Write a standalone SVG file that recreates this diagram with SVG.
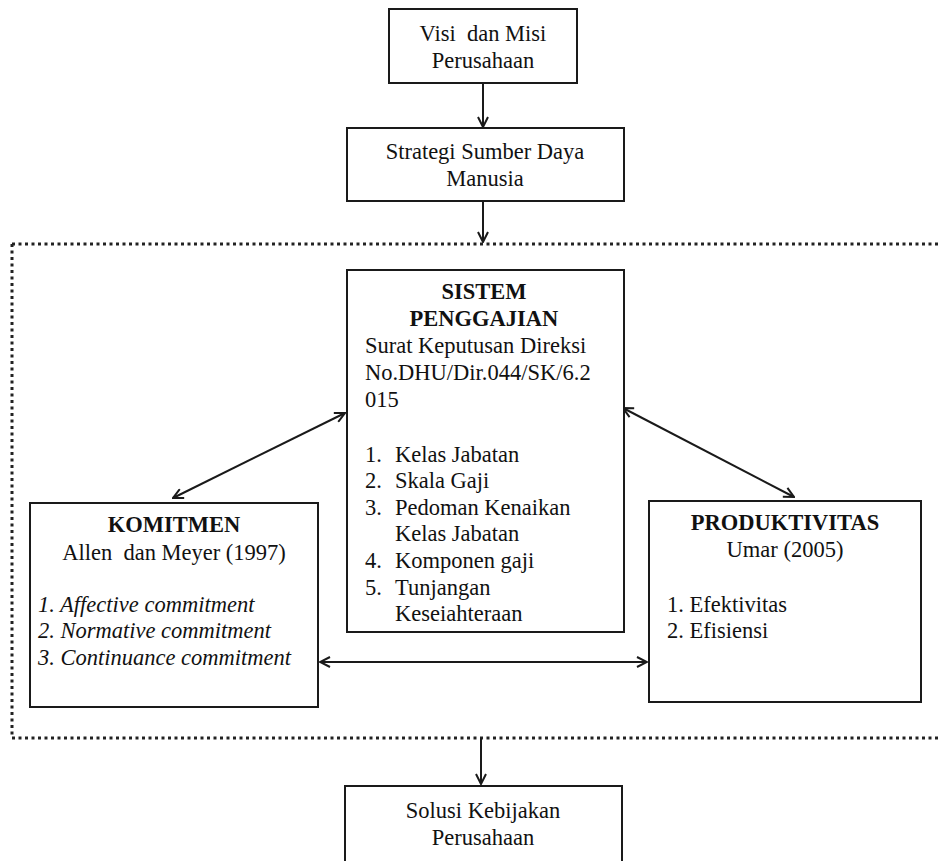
<svg xmlns="http://www.w3.org/2000/svg" width="938" height="861" viewBox="0 0 938 861">
<defs>
<marker id="ah" viewBox="0 0 12 12" refX="11" refY="6" markerWidth="12" markerHeight="12" markerUnits="userSpaceOnUse" orient="auto-start-reverse">
<path d="M1,1 L11,6 L1,11" fill="none" stroke="#1a1a1a" stroke-width="2"/>
</marker>
</defs>
<style>
.box{fill:#fff;stroke:#1a1a1a;stroke-width:2}
.t{font-family:"Liberation Serif","Times New Roman",serif;font-size:22.5px;fill:#111}
.c{text-anchor:middle}
.b{font-weight:bold}
.i{font-style:italic}
.ln{stroke:#1a1a1a;stroke-width:2;fill:none}
.dot{stroke:#222;stroke-width:3;fill:none;stroke-dasharray:3 3.5}
</style>
<rect width="938" height="861" fill="#fff"/>
<g id="frame">
<path class="dot" d="M12,244 H938 M12,244 V738 M12,738 H938"/>
</g>
<g id="connectors">
<line class="ln" x1="483" y1="83" x2="483" y2="127" marker-end="url(#ah)"/>
<line class="ln" x1="483" y1="201" x2="483" y2="242" marker-end="url(#ah)"/>
<line class="ln" x1="345" y1="413" x2="173" y2="498" marker-start="url(#ah)" marker-end="url(#ah)"/>
<line class="ln" x1="623" y1="408" x2="794" y2="497" marker-start="url(#ah)" marker-end="url(#ah)"/>
<line class="ln" x1="320" y1="662" x2="647" y2="662" marker-start="url(#ah)" marker-end="url(#ah)"/>
<line class="ln" x1="481" y1="738" x2="481" y2="784" marker-end="url(#ah)"/>
</g>
<g id="visi">
<rect class="box" x="389" y="9" width="188" height="74"/>
<text class="t c" x="483" y="41" xml:space="preserve">Visi  dan Misi</text>
<text class="t c" x="483" y="68">Perusahaan</text>
</g>
<g id="strategi">
<rect class="box" x="347" y="128" width="277" height="73"/>
<text class="t c" x="485" y="159">Strategi Sumber Daya</text>
<text class="t c" x="485" y="186">Manusia</text>
</g>
<g id="sistem">
<rect class="box" x="347" y="270" width="277" height="362"/>
<text class="t c b" x="484" y="299">SISTEM</text>
<text class="t c b" x="484" y="326">PENGGAJIAN</text>
<text class="t" x="365" y="353">Surat Keputusan Direksi</text>
<text class="t" x="365" y="380">No.DHU/Dir.044/SK/6.2</text>
<text class="t" x="365" y="407">015</text>
<text class="t" x="365" y="462">1.</text><text class="t" x="395" y="462">Kelas Jabatan</text>
<text class="t" x="365" y="488">2.</text><text class="t" x="395" y="488">Skala Gaji</text>
<text class="t" x="365" y="515">3.</text><text class="t" x="395" y="515">Pedoman Kenaikan</text>
<text class="t" x="395" y="541">Kelas Jabatan</text>
<text class="t" x="365" y="568">4.</text><text class="t" x="395" y="568">Komponen gaji</text>
<text class="t" x="365" y="595">5.</text><text class="t" x="395" y="595">Tunjangan</text>
<text class="t" x="395" y="621">Keseiahteraan</text>
</g>
<g id="komitmen">
<rect class="box" x="30" y="503" width="288" height="204"/>
<text class="t c b" x="174" y="532">KOMITMEN</text>
<text class="t c" x="174" y="560" xml:space="preserve">Allen  dan Meyer (1997)</text>
<text class="t i" x="38" y="612">1. Affective commitment</text>
<text class="t i" x="38" y="638">2. Normative commitment</text>
<text class="t i" x="38" y="665">3. Continuance commitment</text>
</g>
<g id="produktivitas">
<rect class="box" x="649" y="501" width="272" height="201"/>
<text class="t c b" x="785" y="530">PRODUKTIVITAS</text>
<text class="t c" x="785" y="557">Umar (2005)</text>
<text class="t" x="667" y="612">1. Efektivitas</text>
<text class="t" x="667" y="638">2. Efisiensi</text>
</g>
<g id="solusi">
<rect class="box" x="345" y="786" width="277" height="90"/>
<text class="t c" x="483" y="818">Solusi Kebijakan</text>
<text class="t c" x="483" y="845">Perusahaan</text>
</g>
</svg>
